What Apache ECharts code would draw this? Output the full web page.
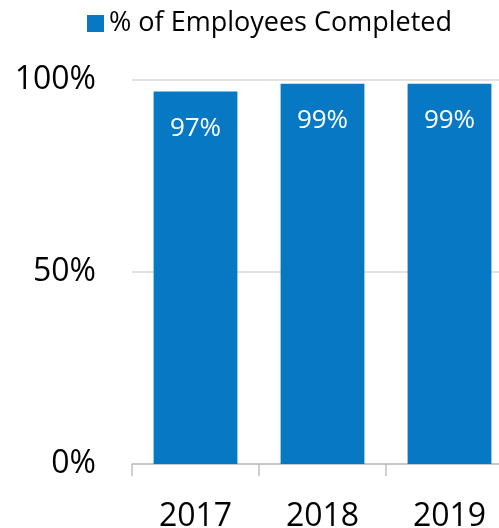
<!DOCTYPE html>
<html><head><meta charset="utf-8">
<script src="https://cdn.jsdelivr.net/npm/echarts@6/dist/echarts.min.js"></script>
<style>html,body{margin:0;padding:0;background:#fff}#c{width:499px;height:528px}</style>
</head><body><div id="c"></div>
<script>
var categories = ['2017', '2018', '2019'];
var completed = [97, 99, 99];
var yTicks = [0, 50, 100];
var seriesName = '% of Employees Completed';
var font = 'Open Sans';
var chart = echarts.init(document.getElementById('c'), null, {renderer: 'canvas'});
chart.setOption({
  animation: false,
  legend: {
    data: [seriesName], left: 82, top: 5, itemWidth: 17, itemHeight: 17, itemGap: 10,
    icon: 'rect',
    textStyle: {fontFamily: font, fontSize: 27, color: '#000'}
  },
  grid: {left: 132, width: 381, top: 80, height: 384, containLabel: false, outerBoundsMode: 'none'},
  xAxis: {
    type: 'category', data: categories,
    axisLine: {lineStyle: {color: '#bfbfbf', width: 1.5}},
    axisTick: {show: true, length: 12, lineStyle: {color: '#bfbfbf', width: 1.5}},
    axisLabel: {fontFamily: font, fontSize: 32, color: '#000', margin: 37}
  },
  yAxis: {
    type: 'value', min: 0, max: 100, interval: 50,
    axisLine: {show: false}, axisTick: {show: false},
    splitLine: {lineStyle: {color: '#d9d9d9', width: 1.5}},
    axisLabel: {fontFamily: font, fontSize: 32, color: '#000', margin: 36,
      formatter: function (v) { return yTicks.indexOf(v) >= 0 ? v + '%' : ''; }}
  },
  series: [{
    name: seriesName, type: 'bar', data: completed, barCategoryGap: '34%',
    itemStyle: {color: '#0779C4'},
    label: {show: true, position: 'insideTop', distance: 24, color: '#fff',
      fontFamily: font, fontSize: 26, formatter: '{c}%'}
  }]
});
</script></body></html>
